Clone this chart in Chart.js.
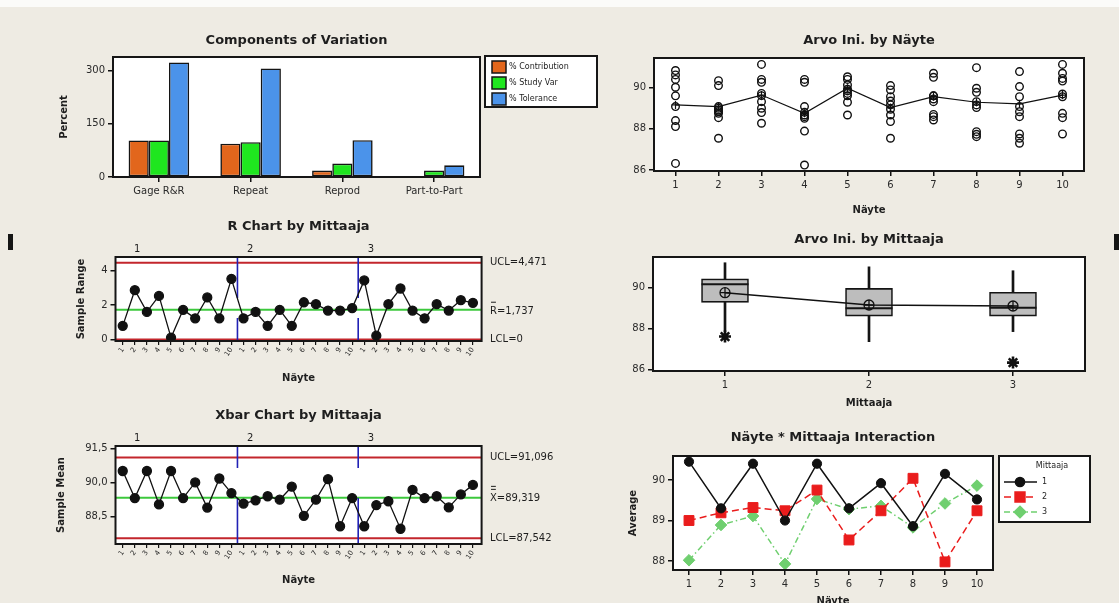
<!DOCTYPE html>
<html>
<head>
<meta charset="utf-8">
<script src="https://cdn.jsdelivr.net/npm/chart.js@4.4.1/dist/chart.umd.min.js"></script>
<style>
  body { margin:0; width:1119px; height:603px; overflow:hidden; position:relative; background:#eeebe3; }
  canvas { position:absolute; left:0; top:0; }
  #franja { position:absolute; left:0; top:0; width:1119px; height:7px; background:#fbfbf9; }
  .borde { position:absolute; width:5px; height:16px; background:#151515; }
</style>
</head>
<body>
<div id="franja"></div>
<div class="borde" style="left:8px;top:234px"></div>
<div class="borde" style="left:1114px;top:234px"></div>
<canvas id="cVariacion" width="1119" height="603"></canvas>
<canvas id="cRango" width="1119" height="603"></canvas>
<canvas id="cMedia" width="1119" height="603"></canvas>
<canvas id="cNayte" width="1119" height="603"></canvas>
<canvas id="cMittaaja" width="1119" height="603"></canvas>
<canvas id="cInteraccion" width="1119" height="603"></canvas>
<script>
// ---- datos ----
const componentes = ["Gage R&R", "Repeat", "Reprod", "Part-to-Part"];
const pctContribution = [103, 94, 18, 3];
const pctStudyVar = [103, 98, 38, 18];
const pctTolerance = [323, 306, 104, 33];
const ticksVariacion = [0, 150, 300];

const nayte = ["1","2","3","4","5","6","7","8","9","10"];
const mittaajat = ["1","2","3"];

// rango por (mittaaja, nayte): 3 bloques de 10
const rangos = [0.80, 2.87, 1.61, 2.54, 0.12, 1.73, 1.24, 2.45, 1.24, 3.53,
                1.24, 1.61, 0.80, 1.73, 0.80, 2.17, 2.06, 1.69, 1.69, 1.83,
                3.44, 0.23, 2.06, 2.97, 1.69, 1.24, 2.06, 1.69, 2.29, 2.14];
const rUCL = 4.471, rBar = 1.737, rLCL = 0;
const ticksRango = [0, 2, 4];

const medias = [90.50, 89.31, 90.50, 89.03, 90.50, 89.31, 90.00, 88.89, 90.17, 89.53,
                89.07, 89.21, 89.39, 89.24, 89.81, 88.53, 89.24, 90.14, 88.07, 89.31,
                88.07, 89.00, 89.17, 87.96, 89.67, 89.31, 89.39, 88.90, 89.47, 89.89];
const xUCL = 91.096, xBarBar = 89.319, xLCL = 87.542;
const ticksMedia = [88.5, 90, 91.5];

// Arvo Ini. por nayte (9 mediciones cada una)
const arvoPorNayte = [
  [90.83, 90.62, 90.40, 90.02, 89.60, 89.08, 88.40, 88.11, 86.32],
  [90.34, 90.10, 89.08, 89.00, 88.91, 88.83, 88.75, 88.54, 87.54],
  [91.13, 90.40, 90.26, 89.72, 89.61, 89.32, 89.00, 88.79, 88.27],
  [90.40, 90.26, 89.08, 88.80, 88.67, 88.59, 88.51, 87.89, 86.24],
  [90.53, 90.40, 90.13, 89.92, 89.84, 89.72, 89.60, 89.29, 88.67],
  [90.10, 89.89, 89.56, 89.35, 89.16, 88.95, 88.67, 88.35, 87.54],
  [90.70, 90.50, 89.60, 89.60, 89.45, 89.32, 88.70, 88.59, 88.43],
  [90.97, 89.97, 89.77, 89.32, 89.16, 89.03, 87.86, 87.73, 87.62],
  [90.78, 90.05, 89.56, 89.08, 88.83, 88.59, 87.75, 87.54, 87.30],
  [91.13, 90.70, 90.45, 90.32, 89.69, 89.56, 88.75, 88.54, 87.75]
];
const mediaPorNayte = [89.16, 89.08, 89.64, 88.75, 89.97, 89.03, 89.56, 89.29, 89.21, 89.64];
const ticksArvo = [86, 88, 90];

// cajas por mittaaja
const bigoteBajo = [87.85, 87.35, 87.84];
const cuartil1 = [89.27, 88.60, 88.60];
const mediana = [90.15, 88.98, 89.01];
const cuartil3 = [90.41, 89.95, 89.76];
const bigoteAlto = [91.20, 91.00, 90.81];
const mediaPorMittaaja = [89.74, 89.14, 89.09];
const atipicoMittaaja = ["1", "3"];
const atipicoValor = [87.60, 86.33];

// interaccion
const interaccion1 = [90.45, 89.30, 90.40, 89.00, 90.40, 89.30, 89.92, 88.86, 90.15, 89.52];
const interaccion2 = [89.00, 89.19, 89.32, 89.24, 89.75, 88.52, 89.24, 90.04, 87.98, 89.24];
const interaccion3 = [88.02, 88.89, 89.11, 87.93, 89.53, 89.28, 89.36, 88.83, 89.42, 89.86];
const ticksInteraccion = [88, 89, 90];

// ---- estilo comun ----
const FAM = '"DejaVu Sans", sans-serif';
Chart.defaults.font.family = FAM;
Chart.defaults.color = "#2a2a2a";
Chart.defaults.animation = false;
Chart.defaults.responsive = false;
Chart.defaults.plugins.legend.display = false;
Chart.defaults.plugins.tooltip.enabled = false;

const Y_W = 40, X_H = 20;

function sinPadding(s){ s.paddingTop = 0; s.paddingBottom = 0; s.paddingLeft = 0; s.paddingRight = 0; }

function margen(l, t, r, b){
  return { left: l - Y_W, top: t, right: 1119 - r, bottom: 603 - b - X_H };
}

function coma(v, d){ return v.toFixed(d).replace(".", ","); }

function ejeY(min, max, valores, fmt){
  return {
    type: "linear", min: min, max: max,
    afterBuildTicks: s => { s.ticks = valores.map(v => ({ value: v })); },
    afterFit: s => { s.width = Y_W; sinPadding(s); },
    grid: { drawOnChartArea: false, drawTicks: true, tickLength: 5, color: "#111", lineWidth: 1.5 },
    border: { display: false },
    ticks: { padding: 3, font: { size: 10 }, callback: fmt || (v => String(v)) }
  };
}

function ejeXcat(){
  return {
    type: "category", offset: true,
    afterFit: s => { s.height = X_H; sinPadding(s); },
    grid: { offset: false, drawOnChartArea: false, drawTicks: true, tickLength: 5, color: "#111", lineWidth: 1.5 },
    border: { display: false },
    ticks: { padding: 3, font: { size: 10 }, autoSkip: false, maxRotation: 0 }
  };
}

function ejeXmuestras(){
  return {
    type: "linear", min: 0.4, max: 30.72,
    afterBuildTicks: s => { s.ticks = rangos.map((v, i) => ({ value: i + 1 })); },
    afterFit: s => { s.height = X_H; sinPadding(s); },
    grid: { drawOnChartArea: false, drawTicks: true, tickLength: 4, color: "#111", lineWidth: 1.2 },
    border: { display: false },
    ticks: { padding: 1, font: { size: 7 }, autoSkip: false, minRotation: 55, maxRotation: 55,
             callback: v => nayte[(v - 1) % 10] }
  };
}

function texto(ctx, s, x, y, font, opts){
  opts = opts || {};
  ctx.save();
  ctx.font = font;
  ctx.fillStyle = opts.color || "#1e1e1e";
  ctx.textAlign = opts.align || "center";
  ctx.textBaseline = "middle";
  ctx.translate(x, y);
  if (opts.rot) ctx.rotate(opts.rot);
  ctx.fillText(s, 0, 0);
  ctx.restore();
}

const F_TITULO = "bold 13px " + FAM;
const F_EJE = "bold 10px " + FAM;
const F_NOTA = "10px " + FAM;

// marco blanco, borde, titulos
function marco(spec){
  return {
    id: "marco",
    beforeDraw(chart){
      const a = chart.chartArea, c = chart.ctx;
      c.save(); c.fillStyle = "#ffffff";
      c.fillRect(a.left, a.top, a.right - a.left, a.bottom - a.top);
      c.restore();
    },
    afterDraw(chart){
      const a = chart.chartArea, c = chart.ctx;
      c.save(); c.strokeStyle = "#161616"; c.lineWidth = 2;
      c.strokeRect(a.left, a.top, a.right - a.left, a.bottom - a.top);
      c.restore();
      const cx = (a.left + a.right) / 2;
      texto(c, spec.titulo, cx, spec.tituloY, F_TITULO);
      if (spec.ejeX) texto(c, spec.ejeX, cx, spec.ejeXY, F_EJE);
      if (spec.ejeY) texto(c, spec.ejeY, spec.ejeYX, (a.top + a.bottom) / 2, F_EJE, { rot: -Math.PI / 2 });
    }
  };
}

// lineas de control, divisores y etiquetas
function control(cfg){
  return {
    id: "control",
    beforeDatasetsDraw(chart){
      const c = chart.ctx, a = chart.chartArea, x = chart.scales.x, y = chart.scales.y;
      const linea = (v, col) => {
        const py = y.getPixelForValue(v);
        c.save(); c.strokeStyle = col; c.lineWidth = 2;
        c.beginPath(); c.moveTo(a.left, py); c.lineTo(a.right, py); c.stroke(); c.restore();
      };
      linea(cfg.ucl, "#c3262c");
      linea(cfg.lcl, "#c3262c");
      linea(cfg.centro, "#3cc83c");
      c.save(); c.strokeStyle = "#2121b5"; c.lineWidth = 1.6; c.setLineDash(cfg.trazo);
      [10.5, 20.5].forEach(d => {
        const px = x.getPixelForValue(d);
        c.beginPath(); c.moveTo(px, a.top); c.lineTo(px, a.bottom); c.stroke();
      });
      c.restore();
    },
    afterDraw(chart){
      const c = chart.ctx, a = chart.chartArea, x = chart.scales.x, y = chart.scales.y;
      mittaajat.forEach((m, i) => texto(c, m, x.getPixelForValue(cfg.grupoX[i]), a.top - 8, F_NOTA));
      const lx = 490;
      texto(c, "UCL=" + coma(cfg.ucl, 3), lx, y.getPixelForValue(cfg.ucl), F_NOTA, { align: "left" });
      texto(c, "LCL=" + (cfg.lcl === 0 ? "0" : coma(cfg.lcl, 3)), lx, y.getPixelForValue(cfg.lcl), F_NOTA, { align: "left" });
      const py = y.getPixelForValue(cfg.centro) + cfg.desplazaCentro;
      texto(c, cfg.simbolo + "=" + coma(cfg.centro, 3), lx, py, F_NOTA, { align: "left" });
      c.save(); c.font = F_NOTA;
      const w = c.measureText(cfg.simbolo).width;
      c.strokeStyle = "#1e1e1e"; c.lineWidth = 1;
      for (let k = 0; k < cfg.barras; k++) {
        const by = py - 10 - k * 3 + 0.5;
        c.beginPath(); c.moveTo(lx + 1, by); c.lineTo(lx + w - 1, by); c.stroke();
      }
      c.restore();
    }
  };
}

// ---- 1. Components of Variation ----
new Chart(document.getElementById("cVariacion"), {
  type: "bar",
  data: {
    labels: componentes,
    datasets: [
      { label: "% Contribution", data: pctContribution, backgroundColor: "#e2661c" },
      { label: "% Study Var", data: pctStudyVar, backgroundColor: "#1fe61f" },
      { label: "% Tolerance", data: pctTolerance, backgroundColor: "#4b93ea" }
    ]
  },
  options: {
    layout: { padding: margen(113, 57, 480, 177) },
    datasets: { bar: { categoryPercentage: 0.66, barPercentage: 1, borderColor: "#141414", borderWidth: 1.6, borderSkipped: false } },
    scales: { x: ejeXcat(), y: ejeY(0, 338.5, ticksVariacion) }
  },
  plugins: [marco({ titulo: "Components of Variation", tituloY: 41, ejeY: "Percent", ejeYX: 64 }), {
    id: "leyenda",
    afterDraw(chart){
      const c = chart.ctx;
      c.save();
      c.fillStyle = "#ffffff"; c.fillRect(485, 56, 112, 51);
      c.strokeStyle = "#161616"; c.lineWidth = 2; c.strokeRect(485, 56, 112, 51);
      chart.data.datasets.forEach((ds, i) => {
        const y0 = 61 + i * 16;
        c.fillStyle = ds.backgroundColor; c.fillRect(492, y0, 14, 12);
        c.lineWidth = 1.5; c.strokeRect(492, y0, 14, 12);
        texto(c, ds.label, 509, y0 + 6, "8px " + FAM, { align: "left" });
      });
      c.restore();
    }
  }]
});

// ---- 2. R Chart ----
new Chart(document.getElementById("cRango"), {
  type: "scatter",
  data: { datasets: [{
    data: rangos.map((v, i) => ({ x: i + 1, y: v })),
    showLine: true, borderColor: "#111", borderWidth: 1.3,
    pointRadius: 4.5, pointBackgroundColor: "#111", pointBorderColor: "#111"
  }] },
  options: {
    layout: { padding: margen(115.5, 257, 481.6, 341) },
    scales: { x: ejeXmuestras(), y: ejeY(-0.08, 4.8, ticksRango) }
  },
  plugins: [marco({ titulo: "R Chart by Mittaaja", tituloY: 227, ejeX: "Näyte", ejeXY: 378, ejeY: "Sample Range", ejeYX: 81 }),
            control({ ucl: rUCL, centro: rBar, lcl: rLCL, simbolo: "R", barras: 1, desplazaCentro: 2,
                      trazo: [41, 20], grupoX: [2.2, 11.55, 21.55] })]
});

// ---- 3. Xbar Chart ----
new Chart(document.getElementById("cMedia"), {
  type: "scatter",
  data: { datasets: [{
    data: medias.map((v, i) => ({ x: i + 1, y: v })),
    showLine: true, borderColor: "#111", borderWidth: 1.3,
    pointRadius: 4.5, pointBackgroundColor: "#111", pointBorderColor: "#111"
  }] },
  options: {
    layout: { padding: margen(115.5, 446, 481.6, 544) },
    scales: { x: ejeXmuestras(), y: ejeY(87.29, 91.6, ticksMedia, v => coma(v, 1)) }
  },
  plugins: [marco({ titulo: "Xbar Chart by Mittaaja", tituloY: 416, ejeX: "Näyte", ejeXY: 580, ejeY: "Sample Mean", ejeYX: 61 }),
            control({ ucl: xUCL, centro: xBarBar, lcl: xLCL, simbolo: "X", barras: 2, desplazaCentro: 1,
                      trazo: [22, 30, 200], grupoX: [2.2, 11.55, 21.55] })]
});

// ---- 4. Arvo Ini. by Näyte ----
const puntosArvo = [];
arvoPorNayte.forEach((lista, i) => lista.forEach(v => puntosArvo.push({ x: nayte[i], y: v })));
new Chart(document.getElementById("cNayte"), {
  type: "line",
  data: {
    labels: nayte,
    datasets: [
      { type: "line", data: mediaPorNayte, borderColor: "#111", borderWidth: 1.2,
        pointStyle: "cross", pointRadius: 4, pointBorderColor: "#111", pointBorderWidth: 1.2 },
      { type: "scatter", data: puntosArvo, pointStyle: "circle", pointRadius: 3.8,
        pointBackgroundColor: "rgba(255,255,255,0)", pointBorderColor: "#111", pointBorderWidth: 1.4 }
    ]
  },
  options: {
    layout: { padding: margen(654, 58, 1084, 171) },
    scales: { x: ejeXcat(), y: ejeY(85.95, 91.44, ticksArvo) }
  },
  plugins: [marco({ titulo: "Arvo Ini. by Näyte", tituloY: 41, ejeX: "Näyte", ejeXY: 210 })]
});

// ---- 5. Arvo Ini. by Mittaaja (cajas) ----
new Chart(document.getElementById("cMittaaja"), {
  type: "bar",
  data: {
    labels: mittaajat,
    datasets: [
      { data: cuartil1.map((q, i) => [q, cuartil3[i]]), backgroundColor: "#bdbdbd", borderColor: "#141414",
        borderWidth: 1.6, borderSkipped: false, barThickness: 47, grouped: false, order: 4 },
      { data: cuartil3.map((q, i) => [q, bigoteAlto[i]]), backgroundColor: "#141414", barThickness: 2, grouped: false, order: 5 },
      { data: bigoteBajo.map((b, i) => [b, cuartil1[i]]), backgroundColor: "#141414", barThickness: 2, grouped: false, order: 5 },
      { type: "line", data: mediaPorMittaaja, borderColor: "#111", borderWidth: 1.5, pointStyle: "circle",
        pointRadius: 5, pointBackgroundColor: "rgba(0,0,0,0)", pointBorderColor: "#111", pointBorderWidth: 1.3, order: 2 },
      { type: "scatter", data: mediaPorMittaaja.map((v, i) => ({ x: mittaajat[i], y: v })), pointStyle: "cross",
        pointRadius: 5, pointBorderColor: "#111", pointBorderWidth: 1.3, order: 1 },
      { type: "scatter", data: atipicoValor.map((v, i) => ({ x: atipicoMittaaja[i], y: v })), pointStyle: "star",
        pointRadius: 6, pointBorderColor: "#111", pointBorderWidth: 2.6, order: 1 }
    ]
  },
  options: {
    layout: { padding: margen(653, 257, 1085, 371) },
    scales: { x: ejeXcat(), y: ejeY(85.92, 91.48, ticksArvo) }
  },
  plugins: [marco({ titulo: "Arvo Ini. by Mittaaja", tituloY: 240, ejeX: "Mittaaja", ejeXY: 403 }), {
    id: "mediana",
    afterDatasetDraw(chart, args){
      if (args.index !== 0) return;
      const c = chart.ctx, y = chart.scales.y;
      c.save(); c.strokeStyle = "#141414"; c.lineWidth = 2;
      args.meta.data.forEach((bar, i) => {
        const py = y.getPixelForValue(mediana[i]);
        c.beginPath(); c.moveTo(bar.x - bar.width / 2, py); c.lineTo(bar.x + bar.width / 2, py); c.stroke();
      });
      c.restore();
    }
  }]
});

// ---- 6. Interaction ----
const estilosInter = [
  { color: "#111111", forma: "circle", radio: 4.6, trazo: [] },
  { color: "#ea1c1c", forma: "rect", radio: 7, trazo: [7, 4] },
  { color: "#6fcf6f", forma: "rectRot", radio: 5.8, trazo: [6, 3, 1.5, 3] }
];
new Chart(document.getElementById("cInteraccion"), {
  type: "line",
  data: {
    labels: nayte,
    datasets: [interaccion1, interaccion2, interaccion3].map((serie, i) => ({
      label: mittaajat[i], data: serie,
      borderColor: estilosInter[i].color, borderWidth: 1.5, borderDash: estilosInter[i].trazo,
      pointStyle: estilosInter[i].forma, pointRadius: estilosInter[i].radio,
      pointBackgroundColor: estilosInter[i].color, pointBorderColor: estilosInter[i].color, pointBorderWidth: 1
    }))
  },
  options: {
    layout: { padding: margen(673, 456, 993, 570) },
    scales: { x: ejeXcat(), y: ejeY(87.78, 90.59, ticksInteraccion) }
  },
  plugins: [marco({ titulo: "Näyte * Mittaaja Interaction", tituloY: 438, ejeX: "Näyte", ejeXY: 601, ejeY: "Average", ejeYX: 633 }), {
    id: "leyenda",
    afterDraw(chart){
      const c = chart.ctx;
      c.save();
      c.fillStyle = "#ffffff"; c.fillRect(999, 456, 91, 66);
      c.strokeStyle = "#161616"; c.lineWidth = 2; c.strokeRect(999, 456, 91, 66);
      texto(c, "Mittaaja", 1052, 466, "8px " + FAM);
      chart.data.datasets.forEach((ds, i) => {
        const y0 = 482 + i * 15, e = estilosInter[i];
        c.strokeStyle = e.color; c.fillStyle = e.color; c.lineWidth = 1.5;
        c.setLineDash(e.trazo);
        c.beginPath(); c.moveTo(1004, y0); c.lineTo(1037, y0); c.stroke();
        c.setLineDash([]);
        Chart.helpers.drawPoint(c, { pointStyle: e.forma, radius: e.radio, borderWidth: 1, rotation: 0 }, 1020, y0);
        texto(c, ds.label, 1042, y0, "8px " + FAM, { align: "left" });
      });
      c.restore();
    }
  }]
});
</script>
</body>
</html>
